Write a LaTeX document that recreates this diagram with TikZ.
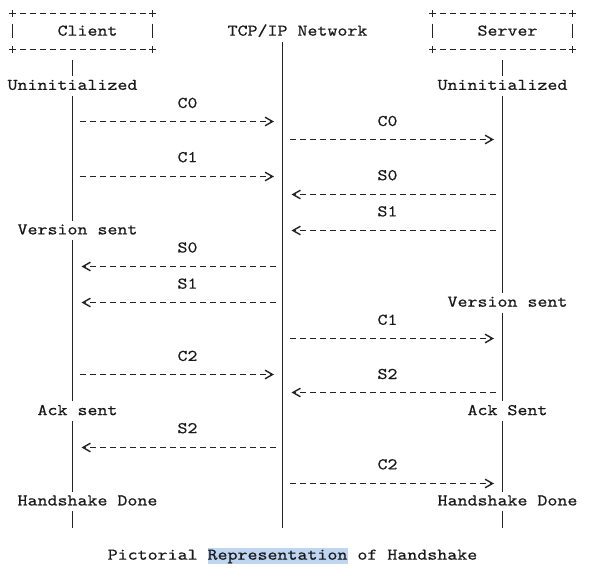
\documentclass[tikz,border=0pt]{standalone}
\usepackage{graphicx}
\usepackage{fontspec}
\usetikzlibrary{arrows.meta}
\newfontfamily\courierlike{lmmono10-regular.otf}[FakeBold=0.45]
\definecolor{ink}{RGB}{25,25,25}
\definecolor{rulec}{RGB}{35,35,42}
\definecolor{hl}{RGB}{190,214,242}
\newcommand\colx[1]{(12.5+10*(#1))}
\newcommand\rowy[1]{(13+18.07*(#1))}
\newcommand\dashy[1]{(floor(13.5+18.07*(#1))+0.5)}
\newcommand\monotext[1]{\scalebox{1.16}[1]{#1}}
\tikzset{
  lbl/.style={font=\courierlike\fontsize{16.4}{18}\selectfont, text=ink, inner sep=0pt, anchor=base},
  life/.style={draw=rulec, line width=1.1pt},
  dashrule/.style={draw=rulec, line width=1.6pt, dash pattern=on 6pt off 4pt},
  plusmark/.style={draw=rulec, line width=1.3pt},
  tipR/.style={-{Straight Barb[length=7.5pt,width=8.5pt,line width=1.4pt,sep=3pt]}},
  msgright/.style={dashrule, tipR, shorten <=7pt, shorten >=5.5pt},
  msgleft/.style={dashrule, tipR, shorten <=7pt, shorten >=6pt},
}
% lifeline segment: name, column, first row, last row
\newcommand\lifeseg[4]{%
  \coordinate (#1a) at ({\colx{#2}},{\rowy{#3}-7.5});
  \coordinate (#1b) at ({\colx{#2}},{\rowy{#4}+9});
  \draw[life] (#1a) -- (#1b);}
% message: name, from column, to column, row, style
\newcommand\sendmsg[5]{%
  \coordinate (#1f) at ({\colx{#2}},{\dashy{#4}});
  \coordinate (#1t) at ({\colx{#3}},{\dashy{#4}});
  \draw[#5] (#1f) -- (#1t);}
% plus corner: name, column, row
\newcommand\pluscorner[3]{%
  \coordinate (#1) at ({\colx{#2}},{\dashy{#3}});
  \draw[plusmark] ([xshift=-3.4pt]#1) -- ([xshift=3.4pt]#1)
                  ([yshift=-3.6pt]#1) -- ([yshift=3.6pt]#1);}
% ascii box: name, left column, right column
\newcommand\asciibox[3]{%
  \pluscorner{#1tl}{#2}{0}\pluscorner{#1tr}{#3}{0}%
  \pluscorner{#1bl}{#2}{2}\pluscorner{#1br}{#3}{2}%
  \draw[dashrule] ([xshift=7pt]#1tl) -- ([xshift=-7pt]#1tr);
  \draw[dashrule] ([xshift=7pt]#1bl) -- ([xshift=-7pt]#1br);
  \coordinate (#1sl) at ({\colx{#2}},{\rowy{1}-7.5});
  \coordinate (#1sr) at ({\colx{#3}},{\rowy{1}-7.5});
  \draw[life] (#1sl) -- ++(0,14);
  \draw[life] (#1sr) -- ++(0,14);}
% text label: name, centre column, row, text
\newcommand\labelat[4]{%
  \node[lbl] (#1) at ({\colx{#2}},{\rowy{#3}+4.6}) {\monotext{#4}};}

\begin{document}
\begin{tikzpicture}[x=1pt,y=-1pt]
\useasboundingbox (0,0) rectangle (590,583);

% boxes
\asciibox{cb}{0}{14}
\asciibox{sb}{42}{56}
\labelat{client}{7.5}{1}{Client}
\labelat{network}{28.5}{1}{TCP/IP Network}
\labelat{server}{49.5}{1}{Server}

% lifelines
\lifeseg{cA}{6}{3}{3}
\lifeseg{cB}{6}{5}{11}
\lifeseg{cC}{6}{13}{21}
\lifeseg{cD}{6}{23}{26}
\lifeseg{cE}{6}{28}{28}
\lifeseg{nA}{27}{2}{28}
\lifeseg{sA}{49}{3}{3}
\lifeseg{sB}{49}{5}{15}
\lifeseg{sC}{49}{17}{21}
\lifeseg{sD}{49}{23}{26}
\lifeseg{sE}{49}{28}{28}

% states
\labelat{cuninit}{6}{4}{Uninitialized}
\labelat{suninit}{49}{4}{Uninitialized}
\labelat{cversion}{6.5}{12}{Version sent}
\labelat{sversion}{49.5}{16}{Version sent}
\labelat{cack}{6.5}{22}{Ack sent}
\labelat{sack}{49.5}{22}{Ack Sent}
\labelat{cdone}{7.5}{27}{Handshake Done}
\labelat{sdone}{49.5}{27}{Handshake Done}

% message labels
\labelat{lcz}{17.5}{5}{C0}
\labelat{rcz}{37.5}{6}{C0}
\labelat{lco}{17.5}{8}{C1}
\labelat{rsz}{37.5}{9}{S0}
\labelat{rso}{37.5}{11}{S1}
\labelat{lsz}{17.5}{13}{S0}
\labelat{lso}{17.5}{15}{S1}
\labelat{rco}{37.5}{17}{C1}
\labelat{lct}{17.5}{19}{C2}
\labelat{rst}{37.5}{20}{S2}
\labelat{lst}{17.5}{23}{S2}
\labelat{rct}{37.5}{25}{C2}

% messages
\sendmsg{m1}{6}{27}{6}{msgright}
\sendmsg{m2}{27}{49}{7}{msgright}
\sendmsg{m3}{6}{27}{9}{msgright}
\sendmsg{m4}{49}{27}{10}{msgleft}
\sendmsg{m5}{49}{27}{12}{msgleft}
\sendmsg{m6}{27}{6}{14}{msgleft}
\sendmsg{m7}{27}{6}{16}{msgleft}
\sendmsg{m8}{27}{49}{18}{msgright}
\sendmsg{m9}{6}{27}{20}{msgright}
\sendmsg{m10}{49}{27}{21}{msgleft}
\sendmsg{m11}{27}{6}{24}{msgleft}
\sendmsg{m12}{27}{49}{26}{msgright}

% caption
\fill[hl] (207.7,548) rectangle (348.3,564.3);
\labelat{caption}{28}{30}{Pictorial Representation of Handshake}
\end{tikzpicture}
\end{document}
